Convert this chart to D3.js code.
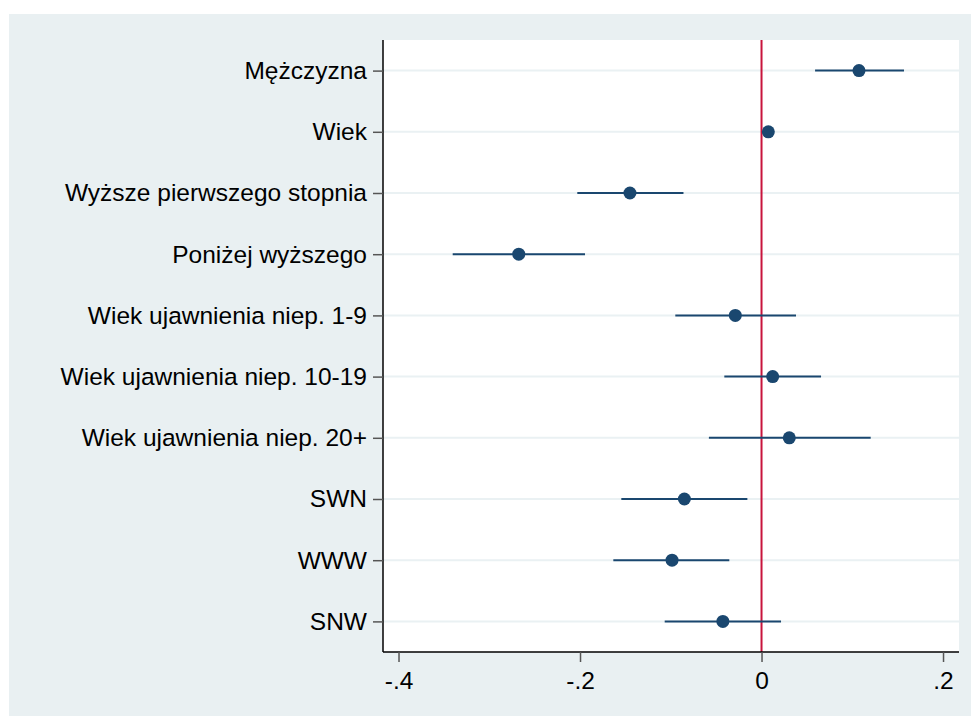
<!DOCTYPE html>
<html>
<head>
<meta charset="utf-8">
<script src="https://cdn.jsdelivr.net/npm/d3@7"></script>
<style>
  body { margin: 0; background: #fff; }
  svg { display: block; font-family: "Liberation Sans", Arial, sans-serif; }
</style>
</head>
<body>
<div id="chart"></div>
<script>
// coefficient labels, top to bottom
const labels = [
  "Mężczyzna",
  "Wiek",
  "Wyższe pierwszego stopnia",
  "Poniżej wyższego",
  "Wiek ujawnienia niep. 1-9",
  "Wiek ujawnienia niep. 10-19",
  "Wiek ujawnienia niep. 20+",
  "SWN",
  "WWW",
  "SNW"
];
// point estimates and 95% CI bounds
const estimates = [0.1074, 0.0075, -0.1450, -0.2675, -0.0289, 0.0123, 0.0306, -0.0850, -0.0986, -0.0426];
const lower     = [0.0590, 0.0055, -0.2030, -0.3403, -0.0950, -0.0410, -0.0580, -0.1545, -0.1633, -0.1067];
const upper     = [0.1570, 0.0095, -0.0860, -0.1945, 0.0380, 0.0656, 0.1203, -0.0156, -0.0355, 0.0215];
const xTicks = [-0.4, -0.2, 0, 0.2];
const xTickLabels = ["-.4", "-.2", "0", ".2"];

const width = 971, height = 716;
const margin = { top: 40, right: 12, bottom: 64, left: 383 };
const innerWidth = 959 - margin.left;
const innerHeight = 652 - margin.top;

const svg = d3.select("#chart").append("svg")
  .attr("width", width)
  .attr("height", height);

// graph region background
svg.append("rect")
  .attr("x", 9).attr("y", 14)
  .attr("width", width - 9).attr("height", height - 14)
  .attr("fill", "#e9f0f2");

const g = svg.append("g")
  .attr("transform", `translate(${margin.left},${margin.top})`);

// plot region
g.append("rect")
  .attr("width", innerWidth)
  .attr("height", innerHeight)
  .attr("fill", "#fff");

const x = d3.scaleLinear()
  .domain([-0.4171, 0.2176])
  .range([0, innerWidth]);

const y = d3.scalePoint()
  .domain(labels)
  .range([0, innerHeight])
  .padding(0.5);

// horizontal grid lines
g.selectAll("line.grid")
  .data(labels)
  .enter().append("line")
  .attr("class", "grid")
  .attr("x1", 0).attr("x2", innerWidth)
  .attr("y1", d => y(d)).attr("y2", d => y(d))
  .attr("stroke", "#eaf1f3")
  .attr("stroke-width", 2);

// reference line at zero
g.append("line")
  .attr("x1", x(0)).attr("x2", x(0))
  .attr("y1", 0).attr("y2", innerHeight)
  .attr("stroke", "#c8143c")
  .attr("stroke-width", 2);

const rows = labels.map((d, i) => ({ label: d, b: estimates[i], lo: lower[i], hi: upper[i] }));

// confidence intervals
g.selectAll("line.ci")
  .data(rows)
  .enter().append("line")
  .attr("class", "ci")
  .attr("x1", d => x(d.lo)).attr("x2", d => x(d.hi))
  .attr("y1", d => y(d.label)).attr("y2", d => y(d.label))
  .attr("stroke", "#1a476f")
  .attr("stroke-width", 2);

// point estimates
g.selectAll("circle.pt")
  .data(rows)
  .enter().append("circle")
  .attr("class", "pt")
  .attr("cx", d => x(d.b))
  .attr("cy", d => y(d.label))
  .attr("r", 6.5)
  .attr("fill", "#1a476f");

// y axis
const yAxis = g.append("g")
  .call(d3.axisLeft(y).tickSize(10).tickPadding(6));
yAxis.select(".domain").attr("stroke", "#000").attr("stroke-width", 1.5)
  .attr("d", `M0,0V${innerHeight}`);
yAxis.selectAll(".tick line").attr("stroke", "#555").attr("stroke-width", 1.5);
yAxis.selectAll("text")
  .attr("font-size", 24.5)
  .attr("font-family", "Liberation Sans, Arial, sans-serif")
  .attr("fill", "#000");

// x axis
const xAxis = g.append("g")
  .attr("transform", `translate(0,${innerHeight})`)
  .call(d3.axisBottom(x).tickValues(xTicks)
    .tickFormat((d, i) => xTickLabels[i])
    .tickSize(10).tickPadding(10));
xAxis.select(".domain").attr("stroke", "#000").attr("stroke-width", 1.5)
  .attr("d", `M0,0H${innerWidth}`);
xAxis.selectAll(".tick line").attr("stroke", "#555").attr("stroke-width", 1.5);
xAxis.selectAll("text")
  .attr("font-size", 24.5)
  .attr("font-family", "Liberation Sans, Arial, sans-serif")
  .attr("fill", "#000");
</script>
</body>
</html>
